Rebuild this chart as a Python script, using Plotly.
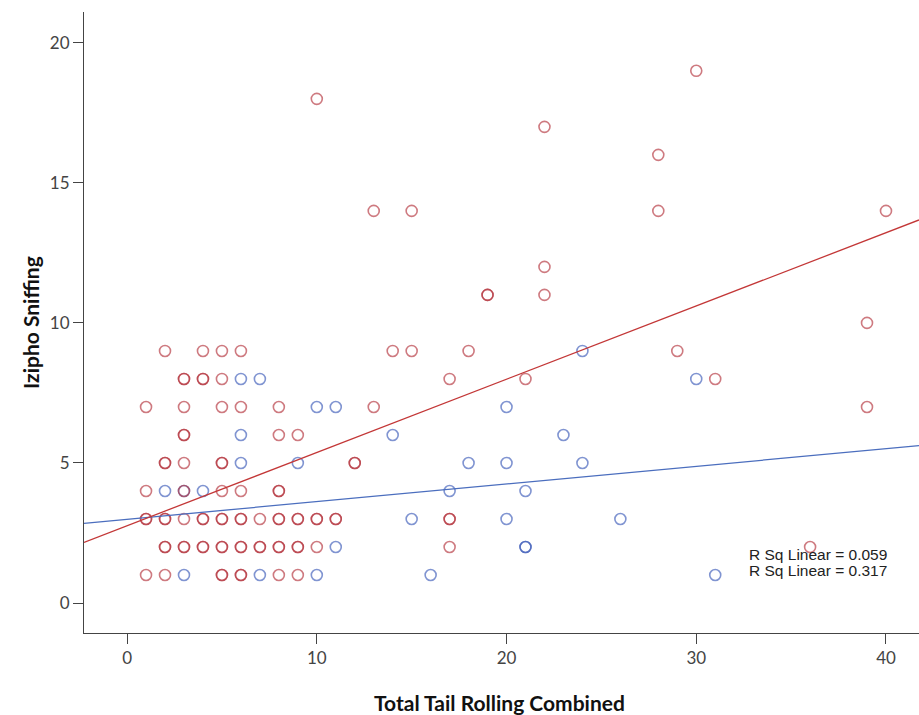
import plotly.graph_objects as go

# Group 1 (red) observations: Total Tail Rolling Combined vs Izipho Sniffing
red_x = [30, 10, 22, 28,
         13, 15, 28, 40,
         22,
         19, 19, 22,
         39,
         2, 4, 5, 6, 14, 15, 18, 29,
         3, 3, 4, 4, 5, 17, 21, 31,
         1, 3, 5, 6, 8, 13, 39,
         3, 3, 8, 9,
         2, 2, 3, 5, 5, 12, 12,
         1, 3, 5, 6, 8, 8,
         1, 1, 2, 2, 3, 4, 4, 5, 5, 6, 6, 7, 8, 8, 9, 9, 10, 10, 11, 11, 17, 17,
         2, 2, 3, 3, 4, 4, 5, 5, 6, 6, 7, 7, 8, 8, 9, 9, 10, 17, 36,
         1, 2, 5, 5, 6, 6, 8, 9]
red_y = [19, 18, 17, 16,
         14, 14, 14, 14,
         12,
         11, 11, 11,
         10,
         9, 9, 9, 9, 9, 9, 9, 9,
         8, 8, 8, 8, 8, 8, 8, 8,
         7, 7, 7, 7, 7, 7, 7,
         6, 6, 6, 6,
         5, 5, 5, 5, 5, 5, 5,
         4, 4, 4, 4, 4, 4,
         3, 3, 3, 3, 3, 3, 3, 3, 3, 3, 3, 3, 3, 3, 3, 3, 3, 3, 3, 3, 3, 3,
         2, 2, 2, 2, 2, 2, 2, 2, 2, 2, 2, 2, 2, 2, 2, 2, 2, 2, 2,
         1, 1, 1, 1, 1, 1, 1, 1]

# Group 2 (blue) observations
blue_x = [24,
          6, 7, 30,
          10, 11, 20,
          6, 14, 23,
          6, 9, 18, 20, 24,
          2, 3, 4, 17, 21,
          15, 20, 26,
          11, 21, 21,
          3, 7, 10, 16, 31]
blue_y = [9,
          8, 8, 8,
          7, 7, 7,
          6, 6, 6,
          5, 5, 5, 5, 5,
          4, 4, 4, 4, 4,
          3, 3, 3,
          2, 2, 2,
          1, 1, 1, 1, 1]

# Linear fit lines (intercept, slope) and their R squared labels
red_fit = (2.76, 0.2615)
blue_fit = (2.99, 0.063)
r_sq_labels = ["R Sq Linear = 0.059", "R Sq Linear = 0.317"]

x_range = [-2.27, 41.74]
y_range = [-1.07, 21.1]
x_ticks = [0, 10, 20, 30, 40]
y_ticks = [0, 5, 10, 15, 20]

RED_MARK = "rgba(180,50,60,0.65)"
BLUE_MARK = "rgba(60,90,185,0.65)"
RED_LINE = "rgb(195,55,55)"
BLUE_LINE = "rgb(75,110,190)"

fig = go.Figure()

fig.add_trace(go.Scatter(
    x=blue_x, y=blue_y, mode="markers",
    marker=dict(symbol="circle-open", size=11, color=BLUE_MARK,
                line=dict(width=1.6, color=BLUE_MARK)),
    showlegend=False, hoverinfo="x+y"))
fig.add_trace(go.Scatter(
    x=red_x, y=red_y, mode="markers",
    marker=dict(symbol="circle-open", size=11, color=RED_MARK,
                line=dict(width=1.6, color=RED_MARK)),
    showlegend=False, hoverinfo="x+y"))

for (b0, b1), col in ((blue_fit, BLUE_LINE), (red_fit, RED_LINE)):
    fig.add_trace(go.Scatter(
        x=x_range, y=[b0 + b1 * x_range[0], b0 + b1 * x_range[1]],
        mode="lines", line=dict(color=col, width=1.3),
        showlegend=False, hoverinfo="skip"))

axis_common = dict(
    showgrid=False, zeroline=False, showline=True, linecolor="#444",
    linewidth=1, ticks="outside", tickcolor="#444", ticklen=10,
    tickwidth=1.2, tickfont=dict(family="Lato", size=17, color="#444"),
)
fig.update_xaxes(range=x_range, tickvals=x_ticks, **axis_common)
fig.update_yaxes(range=y_range, tickvals=y_ticks, **axis_common)

annotations = [
    dict(text="<b>Total Tail Rolling Combined</b>", xref="paper", yref="paper",
         x=0.498, y=-0.1127, xanchor="center", yanchor="middle",
         showarrow=False, font=dict(family="Lato", size=21, color="#111")),
    dict(text="<b>Izipho Sniffing</b>", xref="paper", yref="paper",
         x=-0.0647, y=0.5008, xanchor="center", yanchor="middle",
         textangle=-90, showarrow=False,
         font=dict(family="Lato", size=21, color="#111")),
]
for label, ypos in zip(r_sq_labels, [0.1272, 0.1014]):
    annotations.append(dict(
        text=label, xref="paper", yref="paper", x=0.794, y=ypos,
        xanchor="left", yanchor="middle", showarrow=False,
        font=dict(family="Liberation Sans", size=15.5, color="#222")))

fig.update_layout(
    width=919, height=715,
    margin=dict(l=84, r=0, t=12, b=82),
    plot_bgcolor="white", paper_bgcolor="white",
    annotations=annotations,
)

fig.write_html("out.html")
